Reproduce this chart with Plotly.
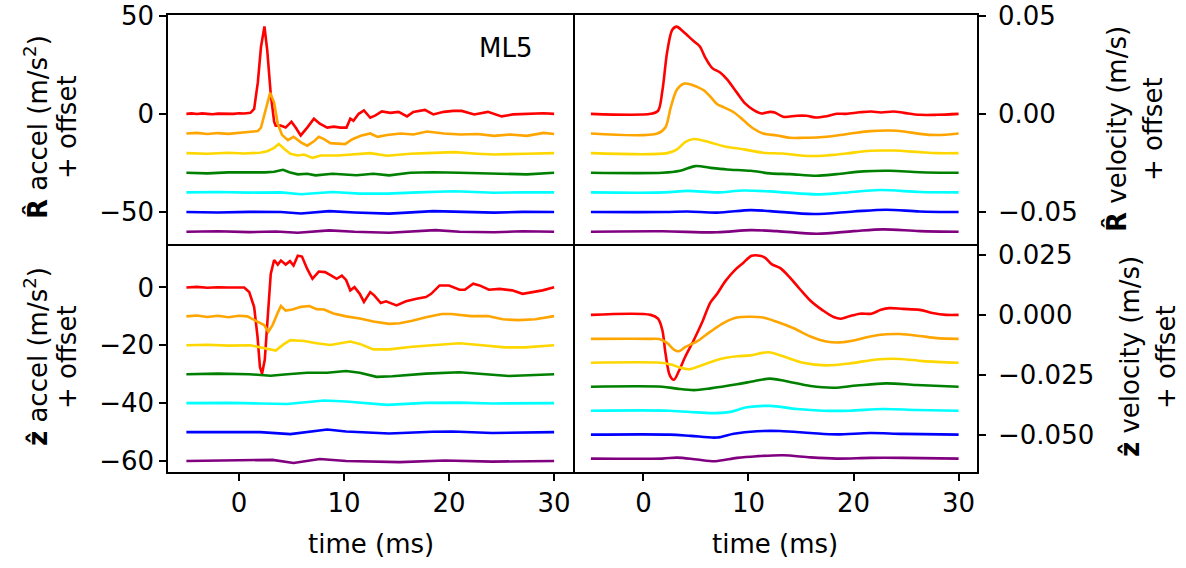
import plotly.graph_objects as go
from plotly.subplots import make_subplots

# ---------------- data ----------------
COLORS = ["red", "orange", "gold", "green", "cyan", "blue", "purple"]
ACC_OFFSETS = [0, -10, -20, -30, -40, -50, -60]
VEL_OFFSETS = [0, -0.01, -0.02, -0.03, -0.04, -0.05, -0.06]

# R-hat acceleration (m/s^2), deviation from offset
ra_red_t = [-5, -4.5, -4, -3.5, -3, -2.5, -2, -1.5, -1, -0.5, 0, 0.5, 1.1, 1.45, 1.8, 2.1, 2.43, 2.7, 3.03, 3.35, 3.5, 3.98, 4.45, 5.0, 5.4, 5.88, 6.5, 7.14, 7.7, 8.4, 9.04, 9.67, 10.24, 10.6, 10.9, 11.4, 11.9, 12.5, 13.0, 13.6, 14.4, 15.2, 16.0, 16.6, 17.7, 18.5, 19.5, 20.4, 21.2, 22.4, 23.7, 25.0, 26.1, 27.4, 29.0, 30]
ra_red_v = [0, 0.2, -0.1, 0.2, 0, -0.2, 0.1, 0, 0.2, 0, 0.3, 0.2, 0.5, 2.5, 16, 34, 44.5, 32, 10, -4, -6, -6, -7, -4, -7, -11, -7, -2.5, -5, -7, -6.5, -7, -7, -2.5, -3.5, 0, 1.7, -2, -0.8, 1.2, 0.5, 1, -1.3, 1, 2, -0.3, 1, 1.5, 1.5, -0.3, 1, -1.3, -0.3, 0, 0.3, 0]
ra_orange_t = [-5, -4, -3, -2, -1, 0, 1, 1.8, 2.1, 2.65, 2.97, 3.35, 3.7, 4.1, 4.66, 5.2, 5.9, 6.5, 7.14, 7.6, 8.1, 8.7, 9.5, 10.1, 10.8, 11.6, 12.5, 13.2, 14.1, 15.4, 16.6, 17.9, 19.5, 21.1, 22.7, 24.3, 25.8, 27.4, 29, 30]
ra_orange_v = [0, 0.3, -0.3, 0.2, -0.2, 0.3, 0.5, 1.2, 3, 14.8, 20.7, 15.7, 4.7, -0.7, -3.4, -1.7, -4.5, -6.2, -4, -1.7, -2.9, -4.9, -5, -5.4, -2.9, -1.2, 0, -1.7, -0.8, 0, -0.5, 1, 0, -0.5, -0.3, -1.2, -0.5, -1.2, 0.3, -0.3]
ra_gold_t = [-5, -3, -1, 0.5, 2, 2.7, 3.35, 3.8, 4.3, 4.9, 5.6, 6.2, 7.0, 7.8, 9.4, 11, 12.5, 14.1, 16.3, 17.9, 20.5, 22.7, 24.3, 27.4, 30]
ra_gold_v = [0, -0.3, 0.2, -0.2, 0.2, 1, 2.7, 4.7, 2.2, -0.3, -1.2, -0.7, -2.4, -1.2, -1.2, -0.7, 0, -1.3, -0.3, 0, 0.5, -0.3, -0.7, -0.3, 0]
ra_green_t = [-5, -3, -1, 1, 2.5, 3.35, 4.2, 4.8, 5.6, 6.5, 7.3, 8.9, 11.2, 12.8, 14.3, 16.3, 18.5, 21, 24.3, 27.4, 30]
ra_green_v = [0, -0.3, 0.2, 0, 0.2, 0.5, 1.5, 0.3, -0.8, -0.5, -1.3, -0.5, -1.3, -0.5, -1.3, 0, 0.3, 0, -0.5, -0.8, 0]
ra_cyan_t = [-5, -2, 1, 4, 5.9, 8.9, 11.5, 14.1, 17, 20.5, 24.3, 27, 30]
ra_cyan_v = [0, 0.2, -0.1, 0, -0.9, 0.2, -0.6, -0.6, 0, 0.6, -0.2, 0.1, 0]
ra_blue_t = [-5, -2, 1, 4, 5.9, 8.6, 11, 14.3, 18.5, 21, 24.3, 27, 30]
ra_blue_v = [0, -0.2, 0.1, 0, -0.7, 0.5, -0.2, -0.8, 0.5, 0, -0.3, 0.1, 0]
ra_purple_t = [-5, -2, 1, 3.5, 5.6, 8.6, 11, 14.3, 18.7, 21, 24.3, 27, 30]
ra_purple_v = [0, 0.2, -0.2, 0.1, -0.5, 0.7, 0, -0.5, 0.8, 0, -0.3, 0.2, 0]

# z-hat acceleration (m/s^2), deviation from offset
za_red_t = [-5, -4, -3, -2, -1, 0, 0.5, 0.98, 1.45, 1.77, 2.0, 2.2, 2.46, 2.7, 3.03, 3.35, 3.7, 4.0, 4.45, 4.86, 5.2, 5.6, 6.0, 6.5, 7.0, 7.6, 8.2, 8.8, 9.3, 9.8, 10.2, 10.6, 11.0, 11.5, 11.9, 12.5, 12.9, 13.5, 14.0, 15.0, 15.9, 16.9, 17.8, 18.3, 19.1, 20.0, 21.0, 21.5, 22.3, 22.9, 23.8, 24.8, 26.0, 27.0, 27.9, 28.9, 30]
za_red_v = [0, 0.2, -0.1, 0.1, 0, 0.1, 0, -1.6, -6.8, -17, -27.5, -29.8, -25, -12.5, 4.7, 9.5, 7.9, 9.3, 7.9, 9.1, 7.6, 11, 10.7, 6.4, 3, 5.5, 5.3, 4.1, 3, 4.1, 2.6, -1, 0.1, -2.2, -5, -1.6, -2.8, -5.4, -4.8, -6.2, -4.8, -3.9, -3.3, -2.2, 0.7, 0.7, -0.8, -0.8, 1.3, 0.7, -0.8, -0.5, -1, -2.2, -1.6, -1, 0.1]
za_orange_t = [-5, -4, -3, -2, -1, 0, 0.8, 1.77, 2.4, 2.8, 3.2, 3.7, 4.0, 4.45, 5.1, 5.9, 6.7, 7.4, 8.1, 9.0, 10.2, 11.5, 12.8, 14.3, 15.3, 16.5, 17.8, 19.3, 20.2, 22.1, 23.7, 25.1, 26.6, 28.2, 30]
za_orange_v = [0, 0.3, -0.2, 0.2, -0.3, 0.2, 0, -1.8, -3, -5.3, -3, 1.3, 3.6, 2, 2.4, 3.3, 3.6, 2.5, 2.4, 1, 0, -0.7, -1.8, -2.6, -2.4, -1.5, -0.3, 0.8, 0.8, 0.1, 0.1, -1, -1.3, -1, 0.1]
za_gold_t = [-5, -3, -1, 1.1, 2, 3, 3.5, 4.3, 4.9, 6.2, 7.4, 8.7, 10.6, 11.5, 12.8, 14.3, 16.5, 18.4, 21, 22.9, 25.3, 27.2, 30]
za_gold_v = [0, 0.2, -0.1, 0, -0.7, -1.4, -1.8, 0.5, 1.8, 1.5, 0.7, 0.1, 1.3, 0.5, -1.4, -1.4, -0.5, 0, 0.7, 0.1, -0.7, -0.7, 0]
za_green_t = [-5, -2, 1, 3, 4.6, 6.5, 8.4, 10.2, 11.5, 13.1, 14.6, 17.8, 21, 24.1, 25.7, 30]
za_green_v = [0, 0.2, 0, -0.5, 0, 0.5, 0.5, 1.1, 0.5, -0.9, -0.7, 0.2, 0.7, -0.2, -0.6, 0]
za_cyan_t = [-5, -1, 2, 4.6, 8.1, 10.2, 14.1, 17.8, 21, 24.1, 30]
za_cyan_v = [0, 0.1, -0.1, -0.3, 0.9, 0.6, -0.6, 0.1, 0.2, -0.1, 0]
za_blue_t = [-5, -1, 2, 4.9, 8.4, 10.2, 14.3, 18.4, 20.3, 24.1, 30]
za_blue_v = [0, 0.1, 0, -0.7, 0.9, 0.2, -0.5, 0.1, 0.2, -0.3, 0]
za_purple_t = [-5, -1, 3.2, 5.2, 7.7, 10.2, 15.3, 19.6, 24.1, 30]
za_purple_v = [0, 0.1, 0.4, -0.7, 0.7, 0, -0.4, 0.2, -0.2, 0]

# R-hat velocity (m/s), deviation from offset
rv_red_t = [-5, 0.69, 1.39, 1.8, 2.27, 2.75, 3.16, 3.7, 4.17, 4.8, 5.37, 5.9, 6.53, 7.33, 7.96, 8.9, 9.7, 10.5, 11.27, 12.06, 12.5, 13.3, 14.6, 15.5, 16.5, 17.4, 18.4, 19.3, 20.6, 21.7, 22.6, 23.8, 24.8, 26.3, 27.9, 30]
rv_red_v = [0, 0, 0.0015, 0.0116, 0.0318, 0.0428, 0.0444, 0.0423, 0.040, 0.0369, 0.0343, 0.0285, 0.0234, 0.0209, 0.0175, 0.0108, 0.0052, 0.0019, 0.0002, 0.001, 0.0007, -0.0015, -0.001, -0.001, -0.0019, -0.0012, 0, 0, 0.0008, 0.0012, 0.0007, 0.0012, 0.0005, -0.0005, -0.0005, 0]
rv_orange_t = [-5, 1.33, 2.1, 2.6, 3.2, 3.9, 4.65, 5.12, 5.74, 6.38, 7.0, 7.65, 8.6, 9.55, 10.5, 11.4, 12.7, 13.95, 15.2, 16.8, 18.4, 20, 21.6, 23.5, 24.8, 26.3, 27.9, 30]
rv_orange_v = [0, 0, 0.0032, 0.0133, 0.0224, 0.0254, 0.0247, 0.0237, 0.022, 0.0187, 0.015, 0.0133, 0.0108, 0.0066, 0.0024, 0, -0.001, -0.0022, -0.0022, -0.0019, -0.001, 0.0002, 0.0012, 0.0015, 0.001, -0.0002, -0.0008, 0]
rv_gold_t = [-5, 2.27, 3.2, 4.0, 4.8, 6.2, 7.65, 9.55, 11.4, 13.3, 15.2, 17.1, 19.3, 21.6, 23.8, 26.3, 27.9, 30]
rv_gold_v = [0, 0, 0.0019, 0.0057, 0.0072, 0.0057, 0.0035, 0.0019, 0.0002, -0.0002, -0.0013, -0.0013, -0.0002, 0.0012, 0.0013, 0.0005, 0, 0]
rv_green_t = [-5, 1.8, 3.5, 4.95, 6.4, 7.96, 10.2, 12.06, 13.95, 16.5, 18.4, 20.9, 23.5, 26.3, 30]
rv_green_v = [0, 0, 0.001, 0.0034, 0.0025, 0.0017, 0.001, -0.0003, -0.0007, -0.0015, -0.0007, 0.0007, 0.001, 0.0003, 0]
rv_cyan_t = [-5, 2, 4.2, 7, 9.55, 12.7, 16.5, 19, 22.5, 26.3, 30]
rv_cyan_v = [0, 0, 0.0008, 0, 0.001, 0.0003, -0.001, -0.0002, 0.0012, 0.0002, 0]
rv_blue_t = [-5, 2, 4.2, 7, 10.2, 12.06, 16.2, 20, 23.1, 26.3, 30]
rv_blue_v = [0, 0, 0.0003, -0.0003, 0.001, 0.0005, -0.001, 0.0003, 0.0012, 0.0003, 0]
rv_purple_t = [-5, 1.8, 7, 10.2, 12.7, 16.5, 20, 22.8, 26.3, 30]
rv_purple_v = [0, 0.0002, -0.0003, 0.0008, 0.0003, -0.001, 0.0003, 0.0012, 0.0003, 0]

# z-hat velocity (m/s), deviation from offset
zv_red_t = [-5, 0.69, 1.39, 1.8, 2.1, 2.53, 2.9, 3.38, 4.0, 4.8, 5.6, 6.38, 7.0, 7.8, 8.75, 9.5, 10.3, 11.1, 11.6, 12.2, 13.0, 13.96, 14.9, 15.9, 17.1, 18.1, 18.8, 19.6, 20.6, 21.7, 22.6, 23.4, 24.7, 26.3, 27.5, 28.8, 30]
zv_red_v = [0, 0, -0.0016, -0.0063, -0.016, -0.0255, -0.0271, -0.0234, -0.0173, -0.0105, -0.003, 0.0052, 0.0087, 0.0141, 0.0189, 0.0217, 0.0247, 0.0247, 0.0238, 0.0212, 0.0196, 0.0155, 0.0107, 0.0059, 0.0018, -0.0009, -0.0016, -0.0006, 0.0005, 0.0005, 0.0021, 0.0028, 0.0025, 0.0021, 0.0008, 0, 0]
zv_orange_t = [-5, 0.69, 1.5, 2.27, 2.9, 3.38, 4.0, 5.1, 6.38, 7.65, 8.9, 10.17, 11.4, 12.7, 14.3, 15.9, 17.4, 18.7, 20, 21.6, 23.1, 24.4, 26.3, 27.9, 30]
zv_orange_v = [0, 0, -0.0001, -0.0018, -0.0045, -0.0052, -0.0034, -0.0011, 0.003, 0.0067, 0.0089, 0.0092, 0.0089, 0.0071, 0.0044, 0.001, -0.0011, -0.0015, -0.0007, 0.001, 0.0019, 0.002, 0.0012, 0.0003, 0]
zv_gold_t = [-5, 1.6, 2.6, 3.5, 4.3, 5.75, 7.33, 8.9, 10.17, 11.9, 13.3, 15.2, 17.4, 19.6, 22.2, 24.4, 26.6, 30]
zv_gold_v = [0, 0, -0.0007, -0.002, -0.0027, -0.0007, 0.0016, 0.0027, 0.0031, 0.0044, 0.0027, 0, -0.0011, -0.0003, 0.0014, 0.0016, 0.0007, 0]
zv_green_t = [-5, 1.8, 3.2, 4.8, 6.38, 8.9, 10.5, 12.06, 13.6, 15.9, 18.1, 20.3, 23.1, 26, 30]
zv_green_v = [0, 0, -0.0008, -0.0014, -0.0007, 0.001, 0.0023, 0.0034, 0.0023, 0.0003, -0.0004, 0.0005, 0.0014, 0.0007, 0]
zv_cyan_t = [-5, 2.5, 5.1, 7, 8.3, 9.86, 12.06, 14.6, 17.1, 19.6, 22.8, 26, 30]
zv_cyan_v = [0, 0, -0.0007, -0.001, -0.0005, 0.0014, 0.002, 0.0007, 0, 0, 0.0007, 0.0003, 0]
zv_blue_t = [-5, 2.5, 4.5, 7, 8.6, 10.8, 13, 15.9, 18.4, 21.6, 24.7, 30]
zv_blue_v = [0, 0, -0.0005, -0.0012, 0.0004, 0.0014, 0.0015, 0.0007, 0.0001, 0.0007, 0.0003, 0]
zv_purple_t = [-5, 1.8, 3.2, 5.1, 6.85, 8.9, 10.8, 13.3, 15.9, 18.4, 21.6, 24.7, 30]
zv_purple_v = [0, 0, 0.0004, -0.0004, -0.0011, 0.0003, 0.001, 0.0014, 0.0005, 0, 0.0003, 0.0003, 0]

X_TICKS = [0, 10, 20, 30]
RA_TICKS = [-50, 0, 50]
ZA_TICKS = [-60, -40, -20, 0]
RV_TICKS = [-0.05, 0.0, 0.05]
RV_TICKTEXT = ["\u22120.05", "0.00", "0.05"]
ZV_TICKS = [-0.05, -0.025, 0.0, 0.025]
ZV_TICKTEXT = ["\u22120.050", "\u22120.025", "0.000", "0.025"]

# ---------------- figure ----------------
FONT = "DejaVu Sans"
FS = 26
fig = make_subplots(rows=2, cols=2, horizontal_spacing=0, vertical_spacing=0)

panels = [
    (1, 1, [(ra_red_t, ra_red_v), (ra_orange_t, ra_orange_v), (ra_gold_t, ra_gold_v), (ra_green_t, ra_green_v),
            (ra_cyan_t, ra_cyan_v), (ra_blue_t, ra_blue_v), (ra_purple_t, ra_purple_v)], ACC_OFFSETS, "linear"),
    (2, 1, [(za_red_t, za_red_v), (za_orange_t, za_orange_v), (za_gold_t, za_gold_v), (za_green_t, za_green_v),
            (za_cyan_t, za_cyan_v), (za_blue_t, za_blue_v), (za_purple_t, za_purple_v)], ACC_OFFSETS, "linear"),
    (1, 2, [(rv_red_t, rv_red_v), (rv_orange_t, rv_orange_v), (rv_gold_t, rv_gold_v), (rv_green_t, rv_green_v),
            (rv_cyan_t, rv_cyan_v), (rv_blue_t, rv_blue_v), (rv_purple_t, rv_purple_v)], VEL_OFFSETS, "spline"),
    (2, 2, [(zv_red_t, zv_red_v), (zv_orange_t, zv_orange_v), (zv_gold_t, zv_gold_v), (zv_green_t, zv_green_v),
            (zv_cyan_t, zv_cyan_v), (zv_blue_t, zv_blue_v), (zv_purple_t, zv_purple_v)], VEL_OFFSETS, "spline"),
]

for row, col, series, offsets, shape in panels:
    for (t, v), off, c in zip(series, offsets, COLORS):
        fig.add_trace(
            go.Scatter(x=t, y=[val + off for val in v], mode="lines",
                       line=dict(color=c, width=2.6, shape=shape, smoothing=0.9),
                       showlegend=False, hoverinfo="skip"),
            row=row, col=col)

axis_common = dict(showline=True, linecolor="black", linewidth=1.6,
                   showgrid=False, zeroline=False, ticks="outside", ticklen=7,
                   tickwidth=1.5, tickcolor="black", automargin=False,
                   tickfont=dict(family=FONT, size=FS, color="black"))

# x axes: top row draws its bottom edge (shared divider) and top edge; bottom row only bottom edge
for c in (1, 2):
    fig.update_xaxes(axis_common, range=[-6.75, 31.75], tickvals=X_TICKS, mirror=True,
                     ticks="", showticklabels=False, row=1, col=c)
    fig.update_xaxes(axis_common, range=[-6.75, 31.75], tickvals=X_TICKS, mirror=False,
                     row=2, col=c)

# y axes: left column mirrors to draw the vertical divider; right column only its right edge
fig.update_yaxes(axis_common, range=[-66, 50.3], tickvals=RA_TICKS, mirror=True, row=1, col=1)
fig.update_yaxes(axis_common, range=[-63.8, 15.2], tickvals=ZA_TICKS, mirror=True, row=2, col=1)
fig.update_yaxes(axis_common, range=[-0.066, 0.0503], tickvals=RV_TICKS, ticktext=RV_TICKTEXT,
                 side="right", mirror=False, ticklabelstandoff=7, row=1, col=2)
fig.update_yaxes(axis_common, range=[-0.0656, 0.0298], tickvals=ZV_TICKS, ticktext=ZV_TICKTEXT,
                 side="right", mirror=False, ticklabelstandoff=7, row=2, col=2)

L, R, T, B = 168, 209, 15, 96
W, H = 1186, 568
pw, ph = W - L - R, H - T - B


def px(xp):
    return (xp - L) / pw


def py(yp):
    return (H - B - yp) / ph


ann_font = dict(family=FONT, size=FS, color="black")
annotations = [
    dict(text="<b>R\u0302</b> accel (m/s<sup>2</sup>)", x=px(36), y=py(127)),
    dict(text="+ offset", x=px(67), y=py(127)),
    dict(text="<b>z\u0302</b> accel (m/s<sup>2</sup>)", x=px(36), y=py(357)),
    dict(text="+ offset", x=px(67), y=py(357)),
    dict(text="<b>R\u0302</b> velocity (m/s)", x=px(1116), y=py(129)),
    dict(text="+ offset", x=px(1153), y=py(129)),
    dict(text="<b>z\u0302</b> velocity (m/s)", x=px(1130), y=py(357)),
    dict(text="+ offset", x=px(1166), y=py(357)),
]
for a in annotations:
    a.update(xref="paper", yref="paper", textangle=-90, showarrow=False,
             xanchor="center", yanchor="middle", font=ann_font)

annotations += [
    dict(text="time (ms)", x=px(371), y=py(544), xref="paper", yref="paper", showarrow=False,
         xanchor="center", yanchor="middle", font=ann_font),
    dict(text="time (ms)", x=px(775), y=py(544), xref="paper", yref="paper", showarrow=False,
         xanchor="center", yanchor="middle", font=ann_font),
    dict(text="ML5", x=25.4, y=33.3, xref="x", yref="y", showarrow=False,
         xanchor="center", yanchor="middle", font=ann_font),
]

fig.update_layout(width=W, height=H, margin=dict(l=L, r=R, t=T, b=B),
                  paper_bgcolor="white", plot_bgcolor="white",
                  font=dict(family=FONT, size=FS, color="black"),
                  annotations=annotations)

fig.write_html("out.html")
